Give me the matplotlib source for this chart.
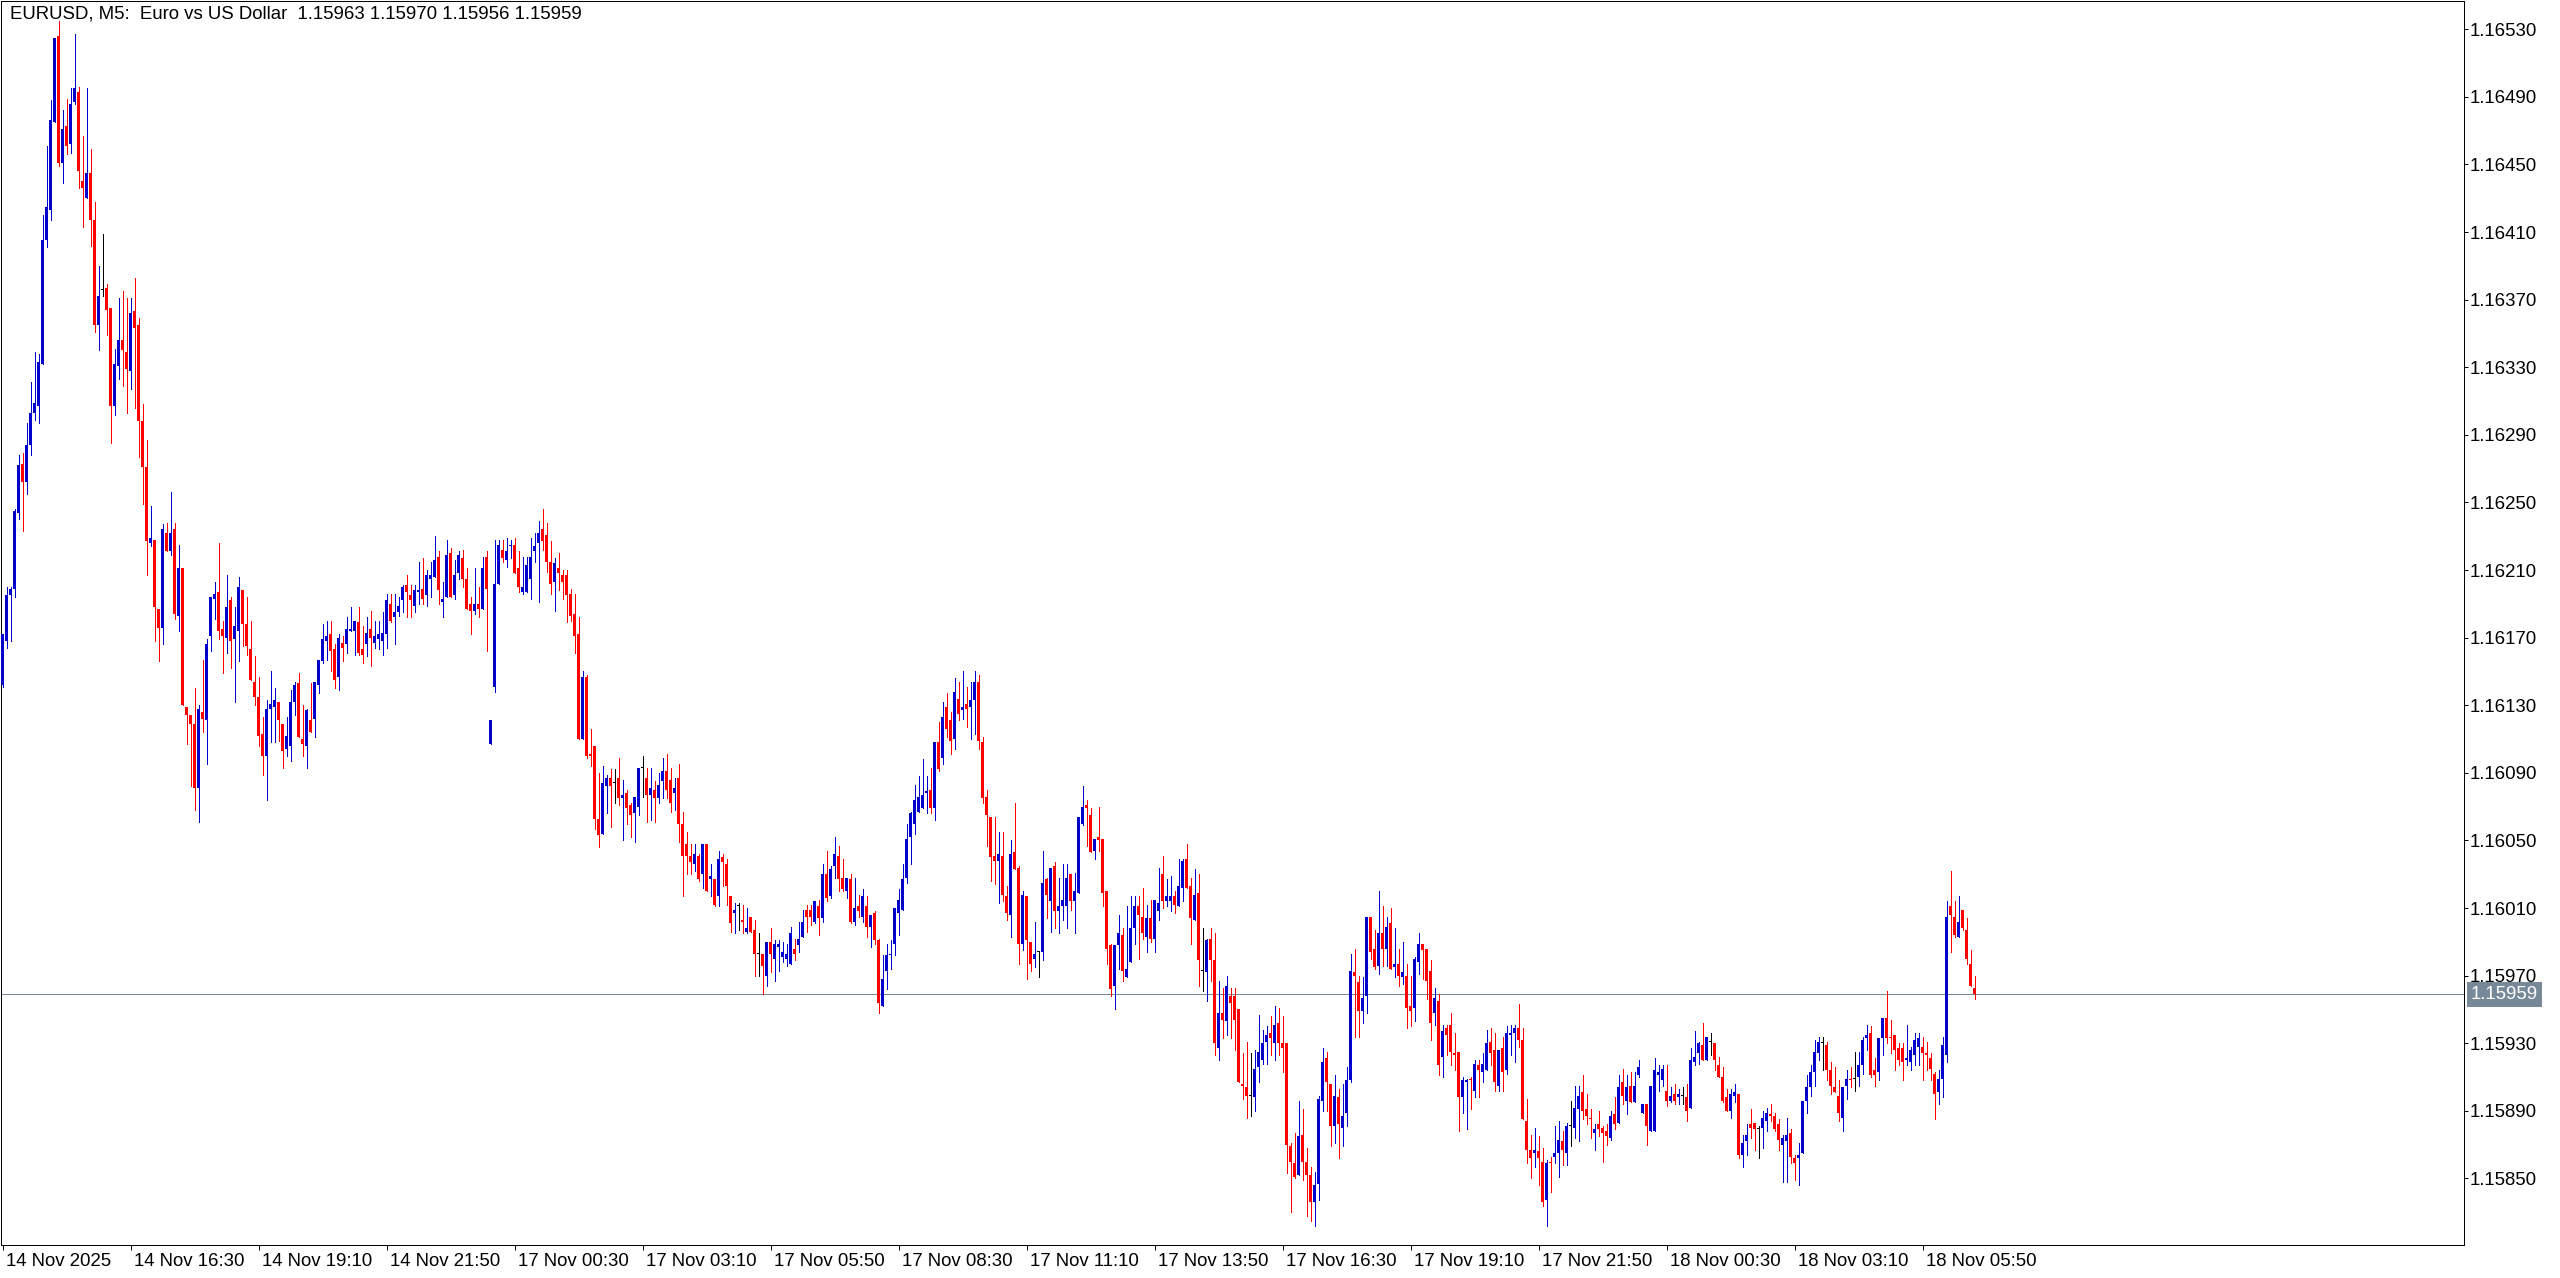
import matplotlib
matplotlib.use("Agg")
import matplotlib.pyplot as plt
from matplotlib.transforms import ScaledTranslation, blended_transform_factory
import numpy as np

plt.rcParams['font.family'] = ['Liberation Sans', 'DejaVu Sans']

# EURUSD M5 bars, prices in points (0.00001) above 1.15000
base = 1.15
o_pts = [1142, 1168, 1195, 1199, 1244, 1273, 1262, 1284, 1303, 1307, 1332, 1405, 1423, 1475, 1526, 1451, 1473, 1462, 1487, 1493,
         1440, 1430, 1445, 1417, 1355, 1376, 1377, 1365, 1307, 1331, 1346, 1339, 1328, 1363, 1355, 1298, 1271, 1226, 1228, 1187,
         1176, 1232, 1221, 1234, 1183, 1211, 1129, 1124, 1119, 1081, 1126, 1121, 1171, 1193, 1197, 1175, 1170, 1192, 1169, 1174,
         1198, 1178, 1163, 1144, 1135, 1113, 1100, 1128, 1129, 1132, 1119, 1104, 1106, 1132, 1143, 1110, 1106, 1121, 1122, 1142,
         1156, 1168, 1172, 1163, 1147, 1167, 1166, 1174, 1174, 1179, 1163, 1166, 1175, 1167, 1169, 1168, 1172, 1190, 1182, 1185,
         1192, 1201, 1195, 1189, 1197, 1199, 1195, 1205, 1206, 1218, 1191, 1194, 1220, 1195, 1208, 1217, 1205, 1190, 1186, 1190,
         1187, 1218, 1107, 1141, 1202, 1222, 1216, 1224, 1225, 1211, 1197, 1197, 1205, 1221, 1226, 1234, 1231, 1215, 1203, 1211,
         1207, 1207, 1196, 1184, 1172, 1110, 1147, 1101, 1106, 1063, 1054, 1082, 1087, 1084, 1087, 1075, 1078, 1071, 1066, 1070,
         1093, 1087, 1077, 1080, 1075, 1085, 1091, 1086, 1078, 1087, 1060, 1048, 1041, 1036, 1041, 1030, 1048, 1027, 1027, 1017,
         1040, 1036, 1017, 1007, 1011, 1003, 996, 1005, 997, 983, 983, 970, 990, 980, 987, 981, 980, 977, 986, 988,
         993, 1009, 1009, 1002, 1011, 1004, 1030, 1017, 1035, 1041, 1028, 1020, 1027, 1002, 1011, 1005, 1011, 999, 1007, 991,
         952, 973, 982, 989, 1007, 1009, 1028, 1052, 1060, 1067, 1069, 1078, 1080, 1069, 1108, 1099, 1129, 1121, 1110, 1134,
         1127, 1131, 1129, 1133, 1144, 1108, 1076, 1064, 1041, 1038, 1041, 1017, 1006, 1043, 1034, 989, 1017, 990, 980, 984,
         984, 1027, 1014, 1035, 1008, 1011, 1011, 1030, 1014, 1019, 1060, 1071, 1065, 1044, 1052, 1051, 1020, 988, 964, 988,
         994, 969, 978, 998, 1011, 1005, 993, 1004, 992, 1008, 1030, 1014, 1014, 1017, 1011, 1022, 1039, 1023, 1003, 1019,
         973, 972, 992, 979, 927, 948, 943, 958, 958, 950, 906, 904, 899, 898, 916, 920, 931, 936, 930, 942,
         930, 930, 869, 859, 852, 876, 860, 852, 836, 847, 896, 921, 906, 881, 898, 880, 889, 908, 972, 966,
         949, 958, 1005, 986, 976, 995, 986, 1001, 975, 977, 969, 970, 952, 951, 978, 989, 986, 973, 948, 955,
         922, 939, 941, 924, 925, 898, 907, 909, 902, 917, 913, 914, 931, 926, 905, 927, 914, 935, 936, 939,
         932, 884, 867, 865, 866, 860, 837, 860, 863, 865, 872, 865, 881, 880, 891, 901, 891, 886, 877, 882,
         880, 878, 874, 888, 883, 907, 896, 905, 895, 911, 889, 894, 878, 878, 911, 908, 902, 896, 900, 898,
         899, 898, 892, 919, 924, 929, 920, 931, 930, 917, 910, 898, 890, 899, 900, 864, 872, 882, 883, 879,
         880, 884, 888, 887, 882, 870, 872, 877, 862, 862, 865, 896, 904, 913, 924, 930, 929, 914, 904, 899,
         886, 905, 909, 909, 910, 917, 933, 936, 914, 913, 933, 945, 934, 935, 927, 927, 920, 919, 923, 928,
         928, 924, 921, 912, 901, 909, 923, 1011, 1005, 993, 1009, 997, 977, 963]
h_pts = [1172, 1200, 1200, 1246, 1278, 1279, 1297, 1321, 1339, 1338, 1420, 1461, 1488, 1525, 1535, 1482, 1489, 1495, 1527, 1496,
         1467, 1495, 1459, 1428, 1390, 1409, 1379, 1365, 1341, 1371, 1375, 1371, 1371, 1383, 1359, 1308, 1287, 1248, 1228, 1187,
         1237, 1238, 1256, 1238, 1225, 1211, 1129, 1124, 1140, 1130, 1157, 1169, 1194, 1203, 1226, 1180, 1207, 1194, 1188, 1206,
         1198, 1194, 1180, 1159, 1147, 1123, 1133, 1150, 1140, 1132, 1119, 1123, 1139, 1144, 1149, 1130, 1128, 1143, 1144, 1157,
         1178, 1180, 1180, 1166, 1172, 1171, 1182, 1188, 1180, 1188, 1177, 1182, 1186, 1180, 1180, 1185, 1196, 1196, 1196, 1194,
         1201, 1207, 1201, 1201, 1215, 1217, 1210, 1215, 1230, 1221, 1203, 1228, 1223, 1216, 1221, 1222, 1211, 1194, 1211, 1200,
         1218, 1221, 1121, 1228, 1228, 1228, 1229, 1228, 1229, 1221, 1218, 1218, 1229, 1232, 1239, 1246, 1238, 1227, 1217, 1220,
         1210, 1210, 1199, 1196, 1182, 1150, 1148, 1116, 1106, 1090, 1094, 1089, 1092, 1092, 1099, 1086, 1080, 1072, 1076, 1093,
         1100, 1093, 1093, 1085, 1090, 1099, 1101, 1093, 1087, 1095, 1067, 1055, 1048, 1048, 1042, 1048, 1048, 1036, 1027, 1044,
         1042, 1039, 1017, 1013, 1013, 1012, 1010, 1005, 1003, 995, 983, 990, 998, 991, 991, 990, 989, 999, 992, 1002,
         1009, 1012, 1012, 1014, 1015, 1036, 1044, 1035, 1052, 1047, 1039, 1028, 1030, 1028, 1018, 1021, 1017, 1006, 1008, 992,
         982, 989, 991, 1010, 1021, 1036, 1060, 1067, 1083, 1088, 1098, 1088, 1093, 1108, 1120, 1132, 1137, 1126, 1146, 1144,
         1150, 1141, 1144, 1150, 1148, 1111, 1080, 1064, 1064, 1055, 1055, 1023, 1050, 1072, 1035, 1020, 1017, 990, 1002, 984,
         1044, 1028, 1034, 1037, 1028, 1036, 1036, 1030, 1031, 1064, 1082, 1074, 1069, 1051, 1070, 1051, 1020, 989, 988, 1006,
         998, 1011, 1017, 1017, 1017, 1022, 1012, 1015, 1015, 1034, 1041, 1027, 1029, 1020, 1039, 1039, 1048, 1028, 1033, 1030,
         998, 992, 998, 995, 967, 963, 970, 963, 963, 950, 924, 931, 924, 926, 947, 938, 940, 946, 952, 951,
         946, 930, 871, 877, 896, 891, 868, 857, 854, 899, 927, 925, 906, 911, 903, 906, 916, 983, 986, 970,
         969, 1005, 1005, 997, 1020, 1011, 1005, 1010, 998, 986, 990, 977, 970, 981, 995, 989, 986, 979, 963, 959,
         941, 941, 948, 936, 925, 910, 909, 910, 920, 920, 924, 938, 939, 936, 926, 934, 940, 941, 941, 953,
         939, 897, 876, 880, 875, 868, 861, 863, 881, 884, 878, 883, 896, 905, 905, 911, 900, 891, 882, 890,
         881, 882, 890, 898, 911, 915, 911, 913, 913, 920, 894, 894, 905, 921, 917, 917, 917, 904, 906, 903,
         904, 906, 927, 937, 931, 942, 934, 936, 930, 922, 916, 903, 903, 906, 900, 876, 882, 891, 883, 881,
         890, 892, 894, 889, 885, 876, 886, 879, 864, 871, 896, 911, 917, 932, 934, 934, 931, 919, 916, 908,
         904, 914, 916, 925, 925, 934, 941, 940, 921, 933, 945, 961, 944, 935, 930, 930, 941, 928, 936, 936,
         934, 931, 924, 913, 914, 934, 1014, 1032, 1014, 1017, 1009, 1004, 985, 970]
l_pts = [1141, 1164, 1168, 1194, 1240, 1233, 1255, 1278, 1299, 1297, 1332, 1401, 1417, 1475, 1449, 1439, 1456, 1457, 1486, 1436,
         1413, 1430, 1402, 1351, 1340, 1372, 1349, 1285, 1302, 1323, 1319, 1303, 1317, 1306, 1277, 1249, 1207, 1224, 1168, 1156,
         1166, 1221, 1219, 1181, 1174, 1130, 1107, 1082, 1068, 1061, 1114, 1095, 1162, 1181, 1169, 1149, 1161, 1152, 1132, 1156,
         1165, 1160, 1145, 1130, 1106, 1089, 1074, 1108, 1108, 1109, 1093, 1100, 1097, 1124, 1111, 1100, 1093, 1114, 1111, 1137,
         1155, 1157, 1150, 1140, 1139, 1156, 1161, 1174, 1160, 1160, 1155, 1159, 1153, 1164, 1163, 1160, 1164, 1179, 1166, 1183,
         1185, 1182, 1182, 1185, 1190, 1190, 1189, 1194, 1206, 1190, 1182, 1194, 1194, 1193, 1205, 1200, 1187, 1172, 1184, 1182,
         1187, 1162, 1107, 1138, 1202, 1215, 1212, 1217, 1208, 1197, 1196, 1197, 1193, 1215, 1191, 1222, 1209, 1196, 1186, 1198,
         1193, 1179, 1180, 1161, 1110, 1110, 1099, 1094, 1057, 1046, 1054, 1066, 1058, 1072, 1071, 1050, 1060, 1052, 1049, 1065,
         1076, 1061, 1062, 1061, 1072, 1075, 1075, 1067, 1068, 1049, 1017, 1030, 1030, 1032, 1026, 1022, 1020, 1017, 1011, 1011,
         1023, 1012, 996, 995, 997, 995, 995, 996, 970, 970, 959, 964, 972, 967, 973, 978, 976, 977, 979, 984,
         993, 996, 1000, 1001, 994, 1002, 1014, 1016, 1028, 1020, 1020, 1016, 1001, 1000, 1005, 1002, 993, 987, 989, 948,
         952, 962, 974, 982, 994, 1009, 1025, 1036, 1054, 1067, 1069, 1066, 1066, 1062, 1091, 1095, 1111, 1101, 1104, 1121,
         1122, 1117, 1110, 1113, 1104, 1072, 1047, 1026, 1024, 1013, 1014, 1003, 993, 1033, 977, 985, 968, 973, 975, 969,
         979, 1004, 996, 998, 995, 1003, 998, 1009, 995, 1019, 1059, 1047, 1043, 1039, 1044, 1011, 977, 958, 950, 974,
         967, 969, 978, 989, 980, 992, 984, 990, 984, 1003, 1010, 1011, 1008, 1007, 1011, 1014, 1022, 989, 1003, 964,
         961, 955, 967, 923, 920, 933, 935, 933, 926, 907, 897, 886, 887, 890, 907, 918, 918, 923, 920, 923,
         913, 853, 830, 850, 852, 849, 828, 825, 822, 837, 890, 890, 869, 871, 862, 869, 881, 907, 934, 934,
         942, 948, 980, 974, 971, 976, 976, 974, 969, 964, 965, 939, 940, 943, 971, 968, 956, 932, 941, 911,
         910, 923, 917, 914, 878, 889, 879, 891, 898, 898, 907, 914, 917, 902, 902, 902, 912, 923, 919, 928,
         885, 859, 850, 857, 846, 834, 822, 842, 859, 851, 858, 858, 869, 874, 872, 885, 882, 874, 867, 875,
         860, 870, 873, 879, 883, 894, 888, 895, 895, 910, 889, 870, 878, 878, 902, 905, 893, 895, 894, 894,
         894, 884, 892, 917, 918, 920, 920, 923, 914, 910, 895, 890, 886, 895, 862, 857, 864, 874, 867, 862,
         868, 878, 884, 878, 867, 848, 848, 859, 849, 846, 865, 889, 899, 905, 920, 914, 908, 900, 901, 884,
         878, 897, 904, 902, 905, 912, 926, 910, 905, 908, 923, 930, 924, 914, 917, 908, 917, 914, 917, 917,
         908, 914, 908, 885, 894, 898, 919, 984, 993, 993, 997, 977, 964, 956]
c_pts = [1172, 1195, 1199, 1245, 1272, 1262, 1284, 1303, 1309, 1333, 1405, 1425, 1476, 1525, 1451, 1471, 1461, 1486, 1495, 1446,
         1436, 1445, 1417, 1355, 1372, 1376, 1364, 1307, 1332, 1346, 1340, 1329, 1362, 1353, 1298, 1271, 1227, 1229, 1188, 1176,
         1234, 1221, 1232, 1184, 1211, 1130, 1124, 1119, 1081, 1128, 1122, 1166, 1194, 1196, 1174, 1171, 1188, 1168, 1177, 1200,
         1178, 1165, 1145, 1135, 1112, 1100, 1128, 1131, 1133, 1121, 1103, 1112, 1132, 1142, 1111, 1107, 1127, 1114, 1144, 1157,
         1169, 1171, 1162, 1145, 1170, 1164, 1175, 1175, 1180, 1161, 1160, 1173, 1170, 1171, 1172, 1173, 1192, 1180, 1185, 1189,
         1200, 1197, 1192, 1198, 1198, 1193, 1207, 1207, 1216, 1198, 1193, 1219, 1194, 1207, 1219, 1205, 1187, 1186, 1190, 1187,
         1211, 1199, 1121, 1202, 1225, 1217, 1221, 1225, 1208, 1200, 1200, 1213, 1218, 1224, 1232, 1227, 1215, 1202, 1214, 1208,
         1203, 1195, 1183, 1171, 1110, 1147, 1100, 1100, 1063, 1053, 1084, 1087, 1082, 1084, 1075, 1077, 1069, 1065, 1076, 1093,
         1093, 1077, 1081, 1075, 1083, 1091, 1080, 1072, 1081, 1060, 1041, 1041, 1037, 1042, 1027, 1048, 1020, 1029, 1012, 1039,
         1037, 1023, 1001, 1009, 1011, 1002, 998, 996, 983, 983, 976, 990, 983, 989, 989, 984, 983, 995, 983, 992,
         1002, 1005, 1005, 1014, 1004, 1030, 1016, 1033, 1042, 1027, 1021, 1028, 1002, 1010, 1008, 1017, 999, 1006, 991, 954,
         968, 982, 983, 1010, 1015, 1027, 1051, 1066, 1074, 1076, 1077, 1079, 1069, 1108, 1092, 1123, 1116, 1109, 1138, 1125,
         1129, 1128, 1133, 1144, 1109, 1075, 1065, 1040, 1038, 1042, 1018, 1007, 1042, 1033, 989, 1018, 991, 977, 983, 984,
         1025, 1018, 1034, 1008, 1011, 1015, 1028, 1014, 1020, 1064, 1070, 1069, 1043, 1051, 1050, 1019, 986, 962, 988, 995,
         973, 974, 998, 1011, 1006, 995, 1004, 992, 1015, 1013, 1014, 1017, 1017, 1012, 1023, 1038, 1022, 1004, 1018, 979,
         973, 991, 979, 930, 948, 944, 964, 954, 944, 907, 905, 899, 899, 915, 925, 930, 935, 933, 941, 930,
         927, 870, 860, 851, 875, 860, 852, 836, 846, 897, 919, 907, 881, 899, 882, 887, 908, 973, 970, 949,
         957, 1005, 984, 975, 995, 986, 999, 974, 977, 970, 972, 951, 949, 980, 989, 985, 967, 942, 957, 917,
         937, 935, 925, 923, 898, 908, 908, 908, 918, 914, 918, 930, 924, 907, 926, 913, 936, 936, 939, 932,
         885, 867, 862, 867, 862, 836, 859, 859, 865, 873, 867, 881, 881, 892, 899, 890, 887, 885, 879, 879,
         877, 875, 887, 882, 904, 899, 904, 895, 905, 916, 894, 881, 905, 914, 913, 915, 896, 899, 896, 900,
         899, 890, 920, 922, 930, 920, 934, 931, 920, 910, 896, 890, 900, 901, 864, 871, 876, 880, 879, 879,
         886, 889, 887, 879, 873, 874, 876, 863, 859, 864, 896, 904, 913, 925, 931, 930, 914, 905, 901, 889,
         904, 909, 908, 909, 917, 932, 935, 911, 911, 933, 945, 933, 933, 926, 920, 919, 921, 926, 932, 933,
         924, 923, 915, 900, 909, 929, 1005, 1006, 994, 1002, 998, 980, 964, 959]

time_labels = ['14 Nov 2025', '14 Nov 16:30', '14 Nov 19:10', '14 Nov 21:50', '17 Nov 00:30', '17 Nov 03:10',
               '17 Nov 05:50', '17 Nov 08:30', '17 Nov 11:10', '17 Nov 13:50', '17 Nov 16:30', '17 Nov 19:10',
               '17 Nov 21:50', '18 Nov 00:30', '18 Nov 03:10', '18 Nov 05:50']
bars_per_label = 32
price_ticks = [1.15850, 1.15890, 1.15930, 1.15970, 1.16010, 1.16050, 1.16090, 1.16130, 1.16170,
               1.16210, 1.16250, 1.16290, 1.16330, 1.16370, 1.16410, 1.16450, 1.16490, 1.16530]
last_bar = [1.15963, 1.15970, 1.15956, 1.15959]
header = 'EURUSD, M5:  Euro vs US Dollar  ' + ' '.join('%.5f' % v for v in last_bar)

o = base + np.array(o_pts) / 1e5
h = base + np.array(h_pts) / 1e5
l = base + np.array(l_pts) / 1e5
c = base + np.array(c_pts) / 1e5
x = np.arange(len(c))

W, H = 2560, 1278
PX = 72 / 100  # one pixel in points
fig = plt.figure(figsize=(W / 100, H / 100), dpi=100)
fig.patch.set_facecolor('white')
ax = fig.add_axes([0.5 / W, 33 / H, 2463.5 / W, 1244.5 / H])

y_lo, y_hi = base + 810.65 / 1e5, base + 1547.0 / 1e5
ax.set_xlim(-0.55, 615.3)
ax.set_ylim(y_lo, y_hi)
one_px = (y_hi - y_lo) / 1244.5

# colours: bull blue, bear red, doji black
cols = np.where(c > o, '#0000cc', np.where(c < o, '#ff0000', '#000000'))

# wicks and bodies
ax.vlines(x, l, h, colors=cols, linewidth=1 * PX, antialiased=False, zorder=2)
body_lo = np.minimum(o, c)
body_h = np.maximum(np.abs(c - o), one_px)
ax.bar(x, body_h, bottom=body_lo, width=0.75, color=cols, linewidth=0, antialiased=False, zorder=3)

# current price line + label box
price_now = last_bar[3]
ax.axhline(price_now, color='#778899', linewidth=1 * PX, zorder=1)
tr = blended_transform_factory(ax.transAxes, ax.transData)
ax.text(1.0 + 7 / 2463.5, price_now, '%.5f' % price_now, transform=tr, color='white', fontsize=13.4,
        va='center', ha='left', clip_on=False,
        bbox=dict(boxstyle='square,pad=0.22', facecolor='#778899', edgecolor='none'))

# frame
for sp in ax.spines.values():
    sp.set_color('black')
    sp.set_linewidth(1 * PX)

# price axis on the right
ax.yaxis.tick_right()
ax.set_yticks(price_ticks)
ax.set_yticklabels(['%.5f' % p for p in price_ticks])
ax.tick_params(axis='y', length=4 * PX, width=1 * PX, pad=1, labelsize=13.4, colors='black')

# time axis
ax.set_xticks([k * bars_per_label for k in range(len(time_labels))])
ax.set_xticklabels(time_labels, ha='left')
ax.tick_params(axis='x', length=5 * PX, width=1 * PX, pad=2, labelsize=13.4, colors='black')
for lab in ax.get_xticklabels():
    lab.set_transform(lab.get_transform() + ScaledTranslation(3 / 100, 0, fig.dpi_scale_trans))

fig.text(10 / W, 1 - 14 / H, header, fontsize=13.4, va='center', ha='left', color='black')

fig.savefig('out.png', dpi=100, facecolor='white')
